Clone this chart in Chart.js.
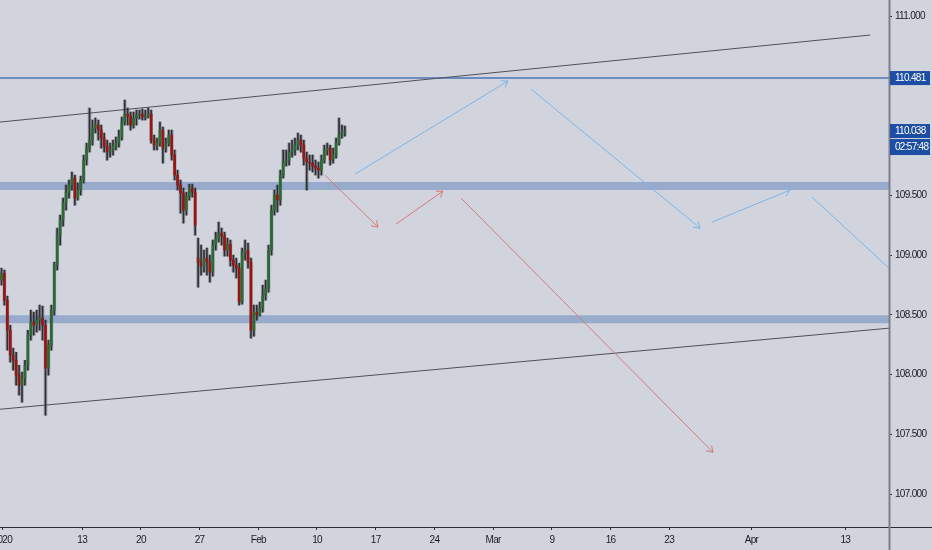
<!DOCTYPE html>
<html>
<head>
<meta charset="utf-8">
<script src="https://cdn.jsdelivr.net/npm/chart.js@4.4.1/dist/chart.umd.min.js"></script>
<style>
  html, body { margin: 0; padding: 0; background: #d1d4dc; }
  #wrap { width: 932px; height: 550px; position: relative; }
  canvas { background: #d1d4dc; }
</style>
</head>
<body>
<div id="wrap"><canvas id="c"></canvas></div>
<script>
// ---- DATA (USD/JPY style, 6h candles, x in trading days from Jan 2 2020) ----
const candleStart = 0.125;
const candleStep = 0.25;
const opens = [108.791,108.849,108.623,108.372,108.163,108.121,107.996,107.912,107.971,108.079,108.331,108.439,108.414,108.456,108.473,108.414,108.054,108.247,108.540,108.916,109.167,109.293,109.435,109.527,109.586,109.644,109.477,109.544,109.628,109.795,109.895,109.962,110.063,110.088,110.046,109.979,109.912,109.862,109.879,109.912,109.937,109.988,110.113,110.180,110.163,110.088,110.147,110.172,110.180,110.155,110.163,110.180,109.962,109.920,109.937,110.046,109.895,109.937,110.004,109.837,109.670,109.586,109.519,109.377,109.494,109.561,109.527,108.975,108.941,108.908,108.975,108.941,108.858,109.084,109.142,109.184,109.159,109.042,109.092,108.958,108.916,108.891,108.607,109.025,109.042,108.941,108.372,108.523,108.498,108.557,108.665,108.724,109.042,109.377,109.502,109.460,109.670,109.778,109.795,109.862,109.879,109.920,109.962,109.920,109.812,109.778,109.770,109.745,109.728,109.711,109.795,109.879,109.895,109.795,109.837,109.937,110.004,110.029];
const highs = [108.891,108.875,108.657,108.414,108.222,108.188,108.079,108.021,108.121,108.372,108.540,108.523,108.540,108.582,108.573,108.456,108.289,108.582,108.941,109.226,109.335,109.477,109.586,109.628,109.695,109.670,109.603,109.661,109.837,109.937,110.230,110.130,110.147,110.130,110.088,110.021,109.962,109.937,109.962,109.988,110.046,110.155,110.297,110.230,110.197,110.197,110.213,110.213,110.222,110.213,110.230,110.213,110.004,109.979,110.113,110.071,109.979,110.046,110.046,109.879,109.711,109.628,109.561,109.527,109.594,109.594,109.561,109.142,109.084,109.042,109.059,109.000,109.126,109.192,109.276,109.226,109.192,109.142,109.126,109.000,108.975,108.933,109.059,109.126,109.100,108.975,108.582,108.582,108.607,108.749,108.791,109.084,109.418,109.544,109.586,109.711,109.879,109.879,109.937,109.962,109.979,110.021,110.004,109.962,109.862,109.837,109.837,109.795,109.778,109.837,109.920,109.937,109.920,109.895,109.979,110.147,110.088,110.080];
const lows = [108.749,108.582,108.205,108.105,108.038,107.912,107.829,107.770,107.912,108.038,108.289,108.331,108.356,108.372,108.289,107.661,107.996,108.205,108.498,108.875,109.084,109.243,109.377,109.477,109.544,109.418,109.460,109.502,109.603,109.753,109.862,109.920,110.021,109.962,109.895,109.862,109.795,109.820,109.837,109.879,109.904,109.962,110.088,110.088,110.046,110.063,110.088,110.138,110.130,110.130,110.147,109.937,109.879,109.879,109.912,109.770,109.862,109.912,109.795,109.628,109.544,109.351,109.268,109.335,109.460,109.485,109.167,108.732,108.833,108.858,108.833,108.774,108.824,109.042,109.109,109.084,108.992,108.992,108.908,108.858,108.808,108.582,108.590,108.958,108.891,108.305,108.322,108.456,108.490,108.523,108.623,108.690,109.000,109.335,109.360,109.418,109.644,109.745,109.753,109.820,109.837,109.879,109.862,109.753,109.544,109.711,109.695,109.670,109.644,109.670,109.770,109.837,109.753,109.770,109.812,109.920,109.979,109.996];
const closes = [108.849,108.623,108.372,108.163,108.121,107.996,107.912,107.971,108.079,108.331,108.439,108.414,108.456,108.473,108.414,108.054,108.247,108.540,108.916,109.167,109.293,109.435,109.527,109.586,109.644,109.477,109.544,109.628,109.795,109.895,109.962,110.063,110.088,110.046,109.979,109.912,109.862,109.879,109.912,109.937,109.988,110.113,110.180,110.163,110.088,110.147,110.172,110.180,110.155,110.163,110.180,109.962,109.920,109.937,110.046,109.895,109.937,110.004,109.837,109.670,109.586,109.519,109.377,109.494,109.561,109.527,109.251,108.941,108.908,108.975,108.941,108.858,109.084,109.142,109.184,109.159,109.042,109.092,108.958,108.916,108.891,108.607,109.025,109.042,108.941,108.372,108.523,108.498,108.557,108.665,108.724,109.042,109.377,109.502,109.460,109.670,109.778,109.795,109.862,109.879,109.920,109.962,109.920,109.812,109.778,109.770,109.745,109.728,109.711,109.795,109.879,109.895,109.795,109.837,109.937,110.004,110.029,110.038];

// Axis ticks
const xTickDays = [0.2, 7, 12, 17, 22, 27, 32, 37, 42, 47, 52, 57, 64, 72];
const xTickLabels = ['2020','13','20','27','Feb','10','17','24','Mar','9','16','23','Apr','13'];
const yTicks = [107.0, 107.5, 108.0, 108.5, 109.0, 109.5, 110.0, 110.5, 111.0];

// Drawn levels / zones
const resistanceLevel = 110.481;
const zoneUpper = [109.612, 109.544];
const zoneLower = [108.498, 108.431];
const countdownText = '02:57:48';

// Channel lines [t, price]
const channelTop = [[0, 110.113], [74.11, 110.841]];
const channelBottom = [[0, 107.711], [75.72, 108.389]];

// Projection arrows [t, price]
const blueArrows = [
  [[30.24, 109.678], [43.27, 110.456]],
  [[45.23, 110.389], [59.63, 109.226]],
  [[60.65, 109.276], [67.29, 109.544]]
];
const blueLineOpen = [[69.17, 109.485], [75.72, 108.891]];
const redArrows = [
  [[27.68, 109.669], [32.20, 109.234]],
  [[33.73, 109.259], [37.73, 109.536]],
  [[39.27, 109.477], [60.73, 107.351]]
];

// Axis ranges
const X_MIN = 0, X_MAX = 75.72;
const Y_MIN = 106.726, Y_MAX = 111.134;

// ---- BUILD ----
const times = opens.map((_, i) => candleStart + i * candleStep);
const bodyData = times.map((t, i) => ({ x: t, y: [opens[i], closes[i]] }));
const wickData = times.map((t, i) => ({ x: t, y: [lows[i], highs[i]] }));
const bodyColors = opens.map((o, i) => closes[i] >= o ? '#2a6b35' : '#9a1414');

const toPts = arr => arr.map(p => ({ x: p[0], y: p[1] }));
const flat = (v) => [{ x: X_MIN, y: v }, { x: X_MAX, y: v }];

const BLUE = '#7db4e6';
const RED = '#d47a7a';

const datasets = [];
// zones
[zoneUpper, zoneLower].forEach(z => {
  datasets.push({ type: 'line', data: flat(z[0]), borderWidth: 0, pointRadius: 0, fill: false, order: 10 });
  datasets.push({ type: 'line', data: flat(z[1]), borderWidth: 0, pointRadius: 0, fill: '-1', backgroundColor: '#98abcd', order: 10 });
});
// channel
datasets.push({ type: 'line', data: toPts(channelTop), borderColor: '#4f5157', borderWidth: 1, pointRadius: 0, order: 6 });
datasets.push({ type: 'line', data: toPts(channelBottom), borderColor: '#4f5157', borderWidth: 1, pointRadius: 0, order: 6 });
// resistance
datasets.push({ type: 'line', data: flat(resistanceLevel), borderColor: '#4f74ba', borderWidth: 1.5, pointRadius: 0, order: 6 });
// arrows
blueArrows.forEach(a => datasets.push({ type: 'line', data: toPts(a), borderColor: BLUE, borderWidth: 1, pointRadius: 0, arrow: true, order: 5 }));
datasets.push({ type: 'line', data: toPts(blueLineOpen), borderColor: BLUE, borderWidth: 1, pointRadius: 0, order: 5 });
redArrows.forEach(a => datasets.push({ type: 'line', data: toPts(a), borderColor: RED, borderWidth: 1, pointRadius: 0, arrow: true, order: 5 }));
// candles
datasets.push({ type: 'bar', data: wickData, backgroundColor: 'rgba(95,97,104,0.45)', barThickness: 3, grouped: false, order: 3 });
datasets.push({ type: 'bar', data: wickData, backgroundColor: '#2e2e33', barThickness: 1, grouped: false, order: 2 });
datasets.push({ type: 'bar', data: bodyData, backgroundColor: bodyColors, borderWidth: 0, barThickness: 2, grouped: false, order: 1 });

const FONT = "'Liberation Sans', Arial, sans-serif";
const SPACING = '-0.7px';

const spacingPlugin = {
  id: 'narrowText',
  beforeDraw(chart) { chart.ctx.letterSpacing = SPACING; }
};

const arrowPlugin = {
  id: 'arrowHeads',
  afterDatasetsDraw(chart) {
    const { ctx, scales: { x, y }, chartArea } = chart;
    ctx.save();
    ctx.beginPath();
    ctx.rect(chartArea.left, chartArea.top, chartArea.right - chartArea.left, chartArea.bottom - chartArea.top);
    ctx.clip();
    chart.data.datasets.forEach(ds => {
      if (!ds.arrow) return;
      const a = ds.data[ds.data.length - 2], b = ds.data[ds.data.length - 1];
      const x1 = x.getPixelForValue(a.x), y1 = y.getPixelForValue(a.y);
      const x2 = x.getPixelForValue(b.x), y2 = y.getPixelForValue(b.y);
      const ang = Math.atan2(y2 - y1, x2 - x1);
      const L = 7, w = Math.PI / 5.5;
      ctx.beginPath();
      ctx.moveTo(x2 - L * Math.cos(ang - w), y2 - L * Math.sin(ang - w));
      ctx.lineTo(x2, y2);
      ctx.lineTo(x2 - L * Math.cos(ang + w), y2 - L * Math.sin(ang + w));
      ctx.strokeStyle = ds.borderColor;
      ctx.lineWidth = 1;
      ctx.stroke();
    });
    ctx.restore();
  }
};

const axisPlugin = {
  id: 'axisDecor',
  afterDraw(chart) {
    const { ctx, chartArea, scales: { y } } = chart;
    const W = chart.width, H = chart.height;
    ctx.save();
    // bottom axis line
    ctx.strokeStyle = '#2e2f33';
    ctx.lineWidth = 1;
    ctx.beginPath();
    ctx.moveTo(0, Math.round(chartArea.bottom) + 0.5);
    ctx.lineTo(W, Math.round(chartArea.bottom) + 0.5);
    ctx.stroke();
    // right axis line
    ctx.strokeStyle = '#7c7f88';
    ctx.lineWidth = 2;
    ctx.beginPath();
    ctx.moveTo(chartArea.right + 0.5, 0);
    ctx.lineTo(chartArea.right + 0.5, H);
    ctx.stroke();

    // price boxes
    const boxX = chartArea.right + 1, boxW = 40;
    const drawBox = (yc, h, text) => {
      ctx.fillStyle = '#1d4ea6';
      ctx.fillRect(boxX, yc - h / 2, boxW, h);
      ctx.fillStyle = '#ffffff';
      ctx.font = '10px ' + FONT;
      ctx.letterSpacing = SPACING;
      ctx.textAlign = 'left';
      ctx.textBaseline = 'middle';
      ctx.fillText(text, boxX + 5, yc + 0.5);
    };
    const yr = y.getPixelForValue(resistanceLevel);
    drawBox(yr, 14, resistanceLevel.toFixed(3));
    const last = closes[closes.length - 1];
    const yl = y.getPixelForValue(last);
    drawBox(yl, 14, last.toFixed(3));
    drawBox(yl + 7 + 1 + 8, 16, countdownText);
    ctx.restore();
  }
};

new Chart(document.getElementById('c'), {
  type: 'bar',
  data: { datasets },
  options: {
    responsive: true,
    maintainAspectRatio: false,
    animation: false,
    events: [],
    layout: { padding: 0, autoPadding: false },
    plugins: { legend: { display: false }, tooltip: { enabled: false } },
    scales: {
      x: {
        type: 'linear',
        min: X_MIN, max: X_MAX,
        offset: false,
        grid: { display: true, drawOnChartArea: false, drawTicks: true, tickLength: 3, color: '#2e2f33', offset: false },
        border: { display: false },
        ticks: {
          autoSkip: false, maxRotation: 0, padding: 4,
          color: '#1b1c20',
          font: { family: FONT, size: 10 },
          callback: (v, i) => xTickLabels[i]
        },
        afterBuildTicks: s => { s.ticks = xTickDays.map(v => ({ value: v })); },
        afterFit: s => { s.height = 23; s.paddingLeft = 0; s.paddingRight = 0; }
      },
      y: {
        type: 'linear',
        position: 'right',
        min: Y_MIN, max: Y_MAX,
        grid: { display: true, drawOnChartArea: false, drawTicks: true, tickLength: 3, color: '#2e2f33' },
        border: { display: false },
        ticks: {
          padding: 3,
          color: '#1b1c20',
          font: { family: FONT, size: 10 },
          callback: v => Number(v).toFixed(3)
        },
        afterBuildTicks: s => { s.ticks = yTicks.map(v => ({ value: v })); },
        afterFit: s => { s.width = 43; s.paddingTop = 0; s.paddingBottom = 0; }
      }
    }
  },
  plugins: [spacingPlugin, arrowPlugin, axisPlugin]
});
</script>
</body>
</html>
